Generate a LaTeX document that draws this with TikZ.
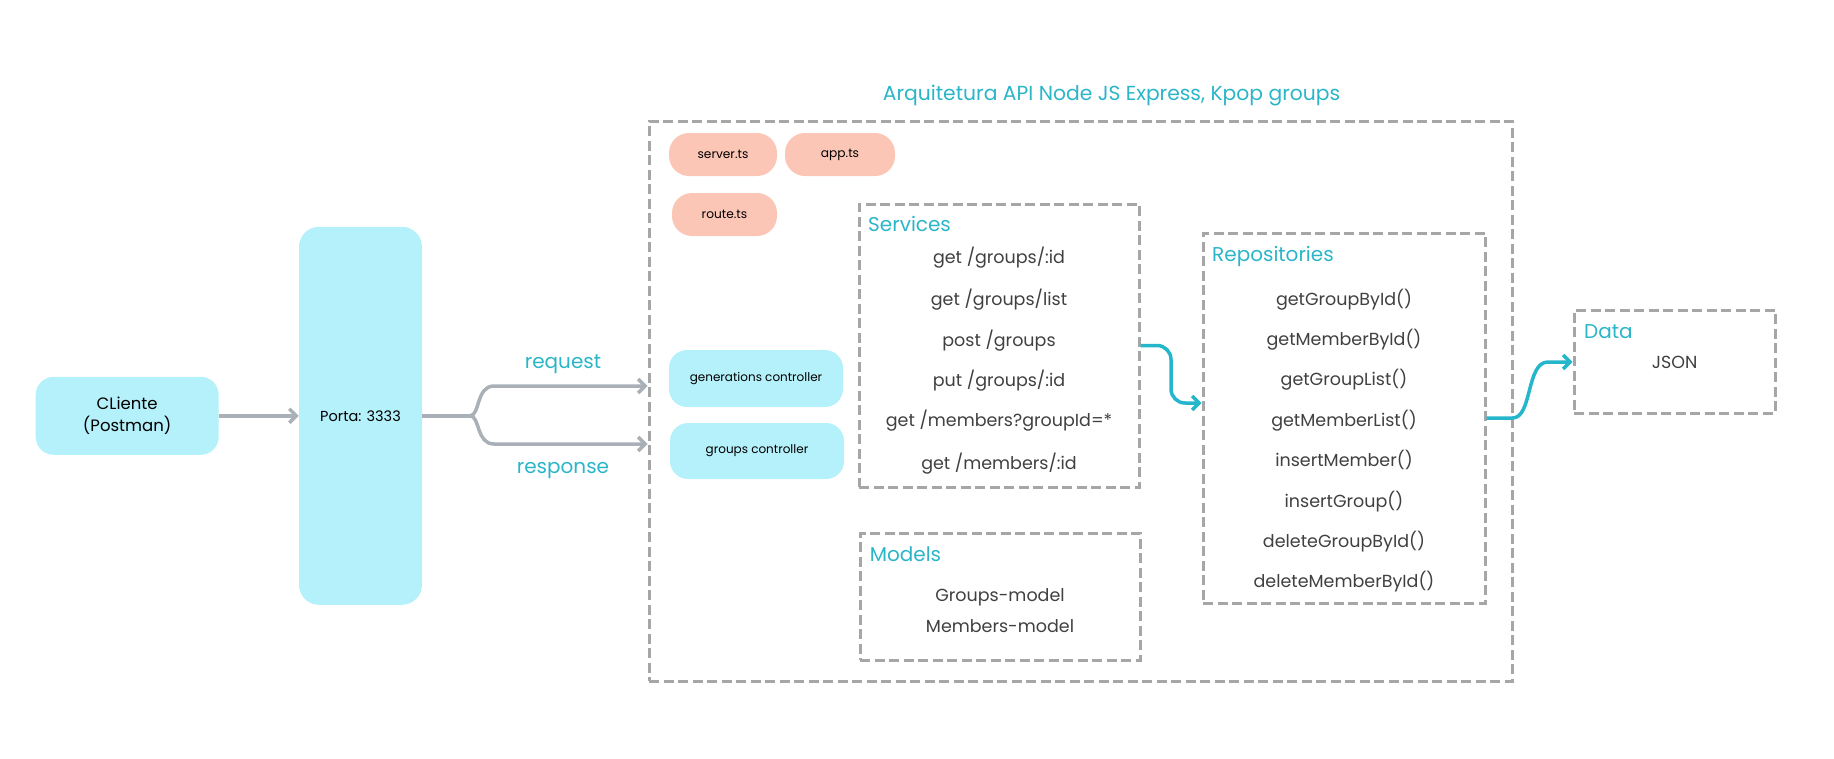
\documentclass[tikz,border=0pt]{standalone}
\usepackage{fontspec}
\setmainfont{Poppins}
\usetikzlibrary{arrows.meta,calc}
\definecolor{cyanfillc}{HTML}{B5F1FA}
\definecolor{salmonc}{HTML}{FBC6B6}
\definecolor{tealc}{HTML}{2BB5C8}
\definecolor{tealarrowc}{HTML}{25B6CB}
\definecolor{dashgreyc}{HTML}{A6A6A6}
\definecolor{arrowgreyc}{HTML}{A9B0B7}
\definecolor{itemgreyc}{HTML}{404040}
\begin{document}
\begin{tikzpicture}[x=1pt,y=-1pt,
  cyanbox/.style={fill=cyanfillc, rounded corners=18pt, inner sep=0pt, align=center, text=black},
  pillbox/.style={fill=salmonc, rounded corners=20pt, inner sep=0pt, text=black, font=\fontsize{12.2}{15}\selectfont},
  ctrlbox/.style={cyanbox, font=\fontsize{12}{15}\selectfont},
  dashbox/.style={draw=dashgreyc, line width=3pt, dash pattern=on 10pt off 4.5pt, inner sep=0pt},
  grouplabel/.style={text=tealc, font=\fontsize{20}{24}\selectfont, anchor=base west, inner sep=0pt},
  itemtext/.style={text=itemgreyc, font=\fontsize{17.5}{21}\selectfont, anchor=base, inner sep=0pt},
  flowlabel/.style={text=tealc, font=\fontsize{20}{24}\selectfont, anchor=base, inner sep=0pt},
  greyline/.style={draw=arrowgreyc, line width=3.5pt},
  greyarrow/.style={greyline, -{Straight Barb[length=7pt,width=14pt]}},
  tealarrow/.style={draw=tealarrowc, line width=3.5pt, -{Straight Barb[length=7pt,width=14pt]}}
]
\useasboundingbox (0,0) rectangle (1834,758);

% title
\node[text=tealc, font=\fontsize{20.3}{24}\selectfont, anchor=base, inner sep=0pt] (title) at (1111.5,100.7) {Arquitetura API Node JS Express, Kpop groups};

% outer dashed frame
\node[dashbox, minimum width=863pt, minimum height=560pt] (outer) at (1080.5,401) {};

% left blocks
\node[cyanbox, minimum width=183pt, minimum height=78pt, font=\fontsize{16.5}{22}\selectfont] (cliente) at (127.2,415.8) {CLiente\\(Postman)};
\node[cyanbox, rounded corners=20pt, minimum width=123pt, minimum height=378pt, font=\fontsize{14.5}{18}\selectfont] (porta) at (360.5,415.8) {Porta: 3333};

% files
\node[pillbox, minimum width=108pt, minimum height=43pt] (server) at (723,154.5) {server.ts};
\node[pillbox, minimum width=110pt, minimum height=43pt] (app) at (840,154.5) {app.ts};
\node[pillbox, minimum width=105pt, minimum height=43pt] (route) at (724.5,214.5) {route.ts};

% controllers
\node[ctrlbox, minimum width=174pt, minimum height=57pt] (gen) at (756,378.5) {generations controller};
\node[ctrlbox, minimum width=174pt, minimum height=56pt] (grp) at (757,451) {groups controller};

% services
\node[dashbox, minimum width=280pt, minimum height=283pt] (services) at (999,345.5) {};
\node[grouplabel] (servicesL) at (868,231.7) {Services};
\node[itemtext] (s1) at (999,263.3) {get /groups/:id};
\node[itemtext] (s2) at (999,305) {get /groups/list};
\node[itemtext] (s3) at (999,346) {post /groups};
\node[itemtext] (s4) at (999,386.7) {put /groups/:id};
\node[itemtext] (s5) at (999,426.7) {get /members?groupId=*};
\node[itemtext] (s6) at (999,469) {get /members/:id};

% models
\node[dashbox, minimum width=280pt, minimum height=127pt] (models) at (1000,596.5) {};
\node[grouplabel] (modelsL) at (869.6,561.7) {Models};
\node[itemtext] (m1) at (1000,601.7) {Groups-model};
\node[itemtext] (m2) at (1000,632.7) {Members-model};

% repositories
\node[dashbox, minimum width=282pt, minimum height=370pt] (repos) at (1344,418) {};
\node[grouplabel] (reposL) at (1212,261) {Repositories};
\node[itemtext] (r1) at (1344,305) {getGroupById()};
\node[itemtext] (r2) at (1344,345) {getMemberById()};
\node[itemtext] (r3) at (1344,385) {getGroupList()};
\node[itemtext] (r4) at (1344,426) {getMemberList()};
\node[itemtext] (r5) at (1344,466) {insertMember()};
\node[itemtext] (r6) at (1344,507) {insertGroup()};
\node[itemtext] (r7) at (1344,547) {deleteGroupById()};
\node[itemtext] (r8) at (1344,587) {deleteMemberById()};

% data
\node[dashbox, minimum width=201pt, minimum height=103pt] (data) at (1674.5,361.5) {};
\node[grouplabel] (dataL) at (1584,338.3) {Data};
\node[itemtext] (json) at (1674.6,368.3) {JSON};

% connectors
\draw[greyarrow] (cliente.east) -- (porta.west);
\coordinate (split) at (470,415.8);
\coordinate (reqc) at (494,386);
\coordinate (resc) at (494,444);
\draw[greyline] (porta.east) -- (split);
\draw[greyarrow] (split) .. controls +(10,0) and +(-18,0) .. (reqc) -- (reqc -| outer.west);
\draw[greyarrow] (split) .. controls +(10,0) and +(-18,0) .. (resc) -- (resc -| outer.west);
\node[flowlabel] (reqL) at (563,368.3) {request};
\node[flowlabel] (resL) at (563,473.3) {response};

\coordinate (bend1) at (1171,403);
\draw[tealarrow, rounded corners=14pt] (services.east) -| (bend1) -- (bend1 -| repos.west);
\coordinate (dj) at (1548,362);
\draw[tealarrow] (repos.east) -- ++(26,0) .. controls +(20,0) and +(-22,0) .. (dj) -- (dj -| data.west);
\end{tikzpicture}
\end{document}
